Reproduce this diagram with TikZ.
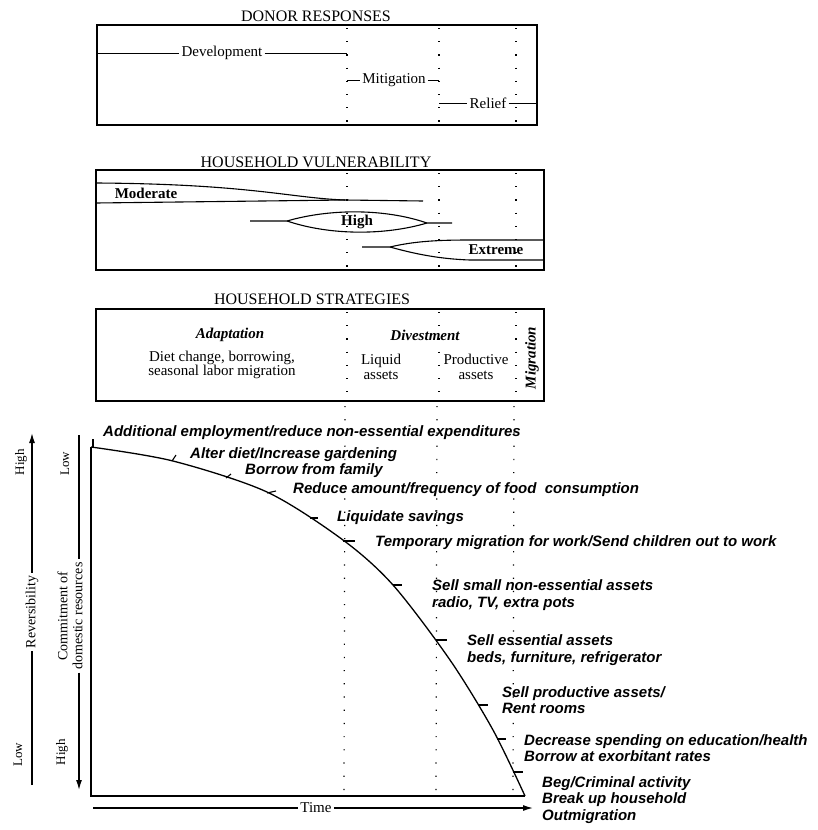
\documentclass[tikz,border=0pt]{standalone}
\usepackage{fontspec}
\setmainfont{Liberation Serif}
\setsansfont{Liberation Sans}
\usetikzlibrary{arrows.meta,positioning}

\begin{document}
\begin{tikzpicture}[x=1pt, y=-1pt,
    heading/.style={font=\fontsize{16}{18}\selectfont},
    panel/.style={draw, line width=1.3pt, inner sep=0pt},
    phase/.style={font=\fontsize{15}{17}\selectfont, inner sep=2pt},
    level/.style={font=\fontsize{15}{17}\selectfont\bfseries, inner sep=1pt},
    group/.style={font=\fontsize{15}{17}\selectfont\bfseries\itshape, inner sep=1pt},
    detail/.style={font=\fontsize{15}{14.5}\selectfont, align=center, inner sep=1pt},
    strategy/.style={font=\fontsize{15}{16.5}\sffamily\bfseries\itshape, anchor=west, align=left, inner sep=0pt},
    axislabel/.style={font=\fontsize{14}{15}\selectfont, rotate=90, align=center, inner sep=3pt},
    tag/.style={font=\fontsize{13}{15}\selectfont, rotate=90, inner sep=1pt},
    guide/.style={line width=1.2pt, dash pattern=on 1.2pt off 12pt},
    band/.style={line width=1.1pt},
    axis/.style={line width=1.3pt},
    tip/.style={-{Latex[length=10pt,width=6pt]}},
]
\useasboundingbox (0,0) rectangle (817,830);

% guide columns
\coordinate (g1) at (347,0);
\coordinate (g2) at (439,0);
\coordinate (g3) at (516,0);

% donor responses
\node[heading] (donor) at (316,16) {DONOR RESPONSES};
\node[panel, minimum width=440, minimum height=100] (donorbox) at (317,75) {};
\node[phase] (dev) at (222,53) {Development};
\node[phase] (mit) at (394,80) {Mitigation};
\node[phase] (rel) at (488,103) {Relief};
\draw (donorbox.west |- dev) -- (dev.west);
\draw (dev.east) -- (g1 |- dev);
\draw (g1 |- mit) -- (mit.west);
\draw (mit.east) -- (g2 |- mit);
\draw (g2 |- rel) -- (rel.west);
\draw (rel.east) -- (donorbox.east |- rel);

% household vulnerability
\node[heading] (vuln) at (316,162) {HOUSEHOLD VULNERABILITY};
\node[panel, minimum width=448, minimum height=100] (vulnbox) at (320,220) {};
\node[level] (mod) at (146,193) {Moderate};
\node[level] (high) at (357,222) {High};
\node[level] (ext) at (496,250) {Extreme};
\draw[band] (96,183) .. controls (250,184) and (290,198) .. (345,200) -- (423,201);
\draw[band] (96,203) -- (345,200);
\draw[band] (250,221) -- (287,221) .. controls (330,208.5) and (385,208.5) .. (427,223) -- (452,223);
\draw[band] (287,221) .. controls (330,235.5) and (385,235.5) .. (427,223);
\draw[band] (362,247) -- (390,247) .. controls (415,241) and (440,240) .. (470,240) -- (544,240);
\draw[band] (390,247) .. controls (415,254) and (440,259) .. (470,260) -- (544,260);

% household strategies
\node[heading] (strat) at (312,299) {HOUSEHOLD STRATEGIES};
\node[panel, minimum width=448, minimum height=92] (stratbox) at (320,355) {};
\node[group] (adapt) at (230,335) {Adaptation};
\node[detail] (diet) at (222,365) {Diet change, borrowing,\\seasonal labor migration};
\node[group] (divest) at (425,335) {Divestment};
\node[detail] (liquid) at (381,367) {Liquid\\assets};
\node[detail] (product) at (476,367) {Productive\\assets};
\node[group, rotate=90] (migr) at (532,358) {Migration};

\foreach \gx in {347,439,516} {
    \draw[guide] (\gx,28) -- (\gx,125);
    \draw[guide] (\gx,173) -- (\gx,270);
    \draw[guide] (\gx,312) -- (\gx,400);
    \draw[guide] (\gx-2,406) -- (\gx-3,792);
}

% coping curve
\coordinate (top) at (91,447);
\coordinate (origin) at (91,796);
\coordinate (tend) at (525,796);
\draw[axis] (top) -- (origin) -- (tend);
\draw[axis] plot[smooth] coordinates {(91,447) (173,461) (267,492) (343,540) (393,585) (450,660) (493,730) (525,796)};
\foreach \tx/\ty/\dx/\dy in {93/447/0/-8, 172/461/4/-6, 226/478/5/-4, 267/493/9/-2, 310/518/8/0,
    343/541/12/0, 393/585/9/0, 436/640/11/0, 478/705/10/0, 497/739/9/0, 513/772/10/0}
    \draw[line width=1.1pt] (\tx,\ty) -- ++(\dx,\dy);

\node[strategy] (s1) at (103,433) {Additional employment/reduce non-essential expenditures};
\node[strategy] (s2) at (190,455) {Alter diet/Increase gardening};
\node[strategy] (s3) at (245,471) {Borrow from family};
\node[strategy] (s4) at (293,490) {Reduce amount/frequency of food\ \ consumption};
\node[strategy] (s5) at (337,518) {Liquidate savings};
\node[strategy] (s6) at (375,543) {Temporary migration for work/Send children out to work};
\node[strategy] (s7) at (432,595) {Sell small non-essential assets\\radio, TV, extra pots};
\node[strategy] (s8) at (467,650) {Sell essential assets\\beds, furniture, refrigerator};
\node[strategy] (s9) at (502,700) {Sell productive assets/\\Rent rooms};
\node[strategy] (s10) at (524,748) {Decrease spending on education/health\\Borrow at exorbitant rates};
\node[strategy] (s11) at (542,800) {Beg/Criminal activity\\Break up household\\Outmigration};

% axes
\node[axislabel] (rev) at (32,612) {Reversibility};
\coordinate (revtop) at (32,433);
\coordinate (revbot) at (32,785);
\draw[axis] (revbot) -- (rev.west);
\draw[axis, tip] (rev.east) -- (revtop);
\node[tag] (revhi) at (21,462) {High};
\node[tag] (revlo) at (18,755) {Low};

\node[axislabel] (com) at (70,616) {Commitment of\\domestic resources};
\coordinate (comtop) at (79,435);
\coordinate (combot) at (79,790);
\draw[axis] (comtop) -- (comtop |- com.east);
\draw[axis, tip] (comtop |- com.west) -- (combot);
\node[tag] (comlo) at (65,464) {Low};
\node[tag] (comhi) at (62,752) {High};

\node[phase] (time) at (316,808) {Time};
\coordinate (tstart) at (93,808);
\coordinate (tarrow) at (533,808);
\draw[axis] (tstart) -- (time.west);
\draw[axis, tip] (time.east) -- (tarrow);
\end{tikzpicture}
\end{document}
